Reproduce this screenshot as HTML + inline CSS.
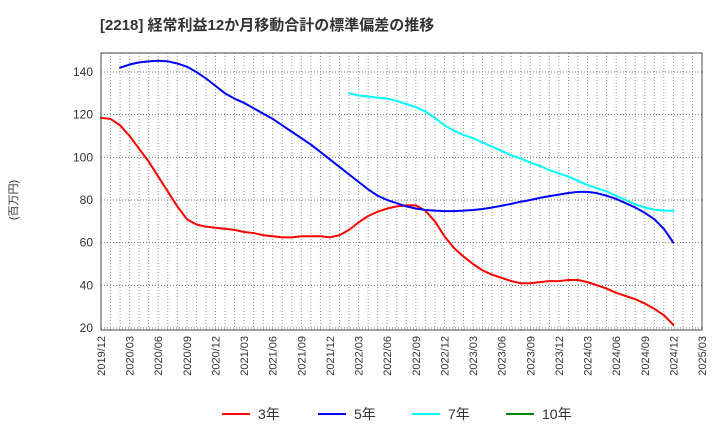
<!DOCTYPE html>
<html><head><meta charset="utf-8"><style>
body{margin:0;background:#fff;font-family:"Liberation Sans","Noto Sans CJK JP",sans-serif;}
svg text{font-family:"Liberation Sans","Noto Sans CJK JP",sans-serif;}
</style></head><body>
<svg id="c" width="720" height="440" xmlns="http://www.w3.org/2000/svg">
<text x="100" y="30" font-size="15" font-weight="bold" fill="#333">[2218]  経常利益12か月移動合計の標準偏差の推移</text>
<text transform="translate(17,200) rotate(-90)" text-anchor="middle" font-size="11" fill="#333">(百万円)</text>
<g id="grid"></g><g id="series"></g><g id="axes"></g>
<g>
<g><line x1="222" y1="414" x2="250" y2="414" stroke="#f00" stroke-width="2"/><text x="258" y="419" font-size="14" fill="#333">3年</text></g>
<g><line x1="318" y1="414" x2="346" y2="414" stroke="#00f" stroke-width="2"/><text x="354" y="419" font-size="14" fill="#333">5年</text></g>
<g><line x1="412" y1="414" x2="440" y2="414" stroke="#0ff" stroke-width="2"/><text x="448" y="419" font-size="14" fill="#333">7年</text></g>
<g><line x1="506" y1="414" x2="534" y2="414" stroke="#080" stroke-width="2"/><text x="542" y="419" font-size="14" fill="#333">10年</text></g>
</g>
</svg>
<script>
const xTickLabels=["2019/12","2020/03","2020/06","2020/09","2020/12","2021/03","2021/06","2021/09","2021/12","2022/03","2022/06","2022/09","2022/12","2023/03","2023/06","2023/09","2023/12","2024/03","2024/06","2024/09","2024/12","2025/03"];
const yTicks=[20,40,60,80,100,120,140];
const red=[118.5,118,115,110,104,98,91,84,77,71,68.5,67.5,67,66.5,66,65,64.5,63.5,63,62.5,62.5,63,63,63,62.5,63.5,66,69.5,72.5,74.5,76,77,77.5,77.5,75,70,63,57.5,53.5,50,47,45,43.5,42,41,41,41.5,42,42,42.5,42.5,41.5,40,38.5,36.5,35,33.5,31.5,29,26,21.5];
const redStart=0;
const blue=[142,143.5,144.5,145,145.3,145,144,142.5,140,137,133.5,130,127.5,125.5,123,120.5,118,115,112,109,106,102.5,99,95.5,92,88.5,85,82,80,78.5,77,76,75.3,75,74.8,74.8,75,75.3,75.8,76.5,77.3,78.2,79.2,80,81,81.8,82.5,83.3,83.8,83.8,83.2,82,80.5,78.5,76.5,74,71,66.5,60];
const blueStart=2;
const cyan=[130,129,128.5,128,127.5,126.5,125,123.5,121.5,118.5,115,112.5,110.5,109,107,105,103,101,99.5,97.5,96,94,92.5,91,89,87,85.5,84,82,80,78,76.5,75.5,75,75];
const cyanStart=26;
const X0=101,X1=702,Y0=53,YB=330,NM=63;
const xs=m=>X0+(X1-X0)*m/NM;
const ys=v=>328-(v-20)*256/120;
const NS="http://www.w3.org/2000/svg";
function mk(t,a,p){const e=document.createElementNS(NS,t);for(const k in a)e.setAttribute(k,a[k]);p.appendChild(e);return e;}
const grid=document.getElementById('grid'),axes=document.getElementById('axes'),ser=document.getElementById('series');
for(let m=1;m<NM;m++){const l=mk('line',{x1:xs(m),x2:xs(m),y1:Y0,y2:YB,stroke:'#999','stroke-width':1,'stroke-dasharray':'1,2'},grid);

}
yTicks.forEach(v=>{const l=mk('line',{x1:X0,x2:X1,y1:ys(v),y2:ys(v),stroke:'#777','stroke-width':1,'stroke-dasharray':'1,2'},grid);


const t=mk('text',{x:X0-8,y:ys(v)+4,'text-anchor':'end','font-size':12,fill:'#333'},axes);t.textContent=v;

});
xTickLabels.forEach((s,i)=>{const x=xs(i*3);const t=mk('text',{transform:`translate(${x+4},336) rotate(-90)`,'text-anchor':'end','font-size':11,fill:'#333'},axes);t.textContent=s;

});
const fr=mk('rect',{x:X0,y:Y0,width:X1-X0,height:YB-Y0,fill:'none',stroke:'#444','stroke-width':1},axes);


function line(d,st,col,name){const p=mk('polyline',{points:d.map((v,i)=>xs(st+i)+','+ys(v)).join(' '),fill:'none',stroke:col,'stroke-width':2,'stroke-linejoin':'round','stroke-linecap':'round'},ser);

}
line(red,redStart,'#f00','series-3y');
line(blue,blueStart,'#00f','series-5y');
line(cyan,cyanStart,'#0ff','series-7y');
</script>
</body></html>
